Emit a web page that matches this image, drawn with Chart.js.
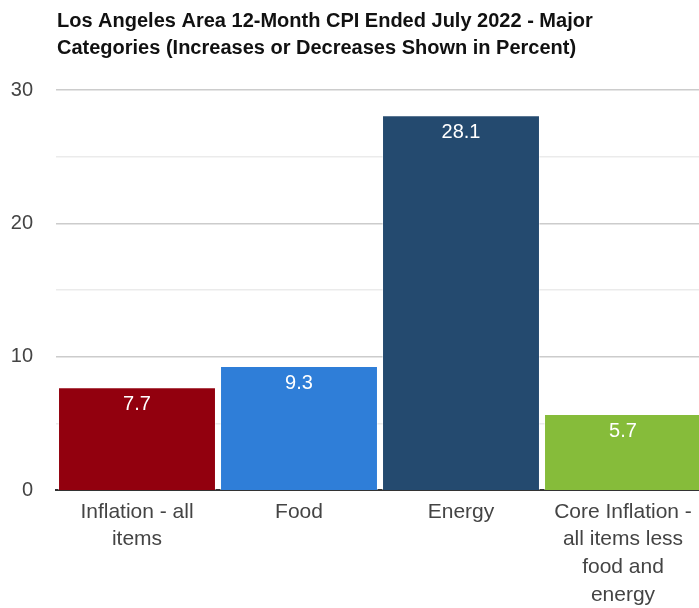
<!DOCTYPE html>
<html>
<head>
<meta charset="utf-8">
<script src="https://cdn.jsdelivr.net/npm/chart.js@4.4.1/dist/chart.umd.min.js"></script>
<style>
html,body{margin:0;padding:0;background:#fff;overflow:hidden;}
#wrap{width:699px;height:608px;position:relative;overflow:hidden;}
canvas{display:block;}
</style>
</head>
<body>
<div id="wrap"><canvas id="c" width="704" height="608"></canvas></div>
<script>
const titleLines = ["Los Angeles Area 12-Month CPI Ended July 2022 - Major", "Categories (Increases or Decreases Shown in Percent)"];
const categories = [["Inflation - all", "items"], ["Food"], ["Energy"], ["Core Inflation -", "all items less", "food and", "energy"]];
const values = [7.7, 9.3, 28.1, 5.7];
const barColors = ["#92000e", "#2f7ed8", "#244a6f", "#86bc3a"];
const yMin = 0, yMax = 30, yStep = 5, yLabelStep = 10;

const FONT = "'Liberation Sans', Arial, sans-serif";

const titlePlugin = {
  id: 'leftTitle',
  afterDraw(chart) {
    const ctx = chart.ctx;
    ctx.save();
    ctx.font = "bold 20px " + FONT;
    ctx.fillStyle = "#111";
    ctx.textAlign = "left";
    ctx.textBaseline = "middle";
    const x = chart.chartArea.left + 1;
    titleLines.forEach((t, i) => ctx.fillText(t, x, 21 + i * 27));
    ctx.restore();
  }
};

const valuePlugin = {
  id: 'valueLabels',
  afterDatasetsDraw(chart) {
    const ctx = chart.ctx;
    const meta = chart.getDatasetMeta(0);
    ctx.save();
    ctx.font = "20px " + FONT;
    ctx.fillStyle = "#ffffff";
    ctx.textAlign = "center";
    ctx.textBaseline = "middle";
    meta.data.forEach((bar, i) => {
      const p = bar.getProps(['x', 'y'], true);
      ctx.fillText(String(values[i]), p.x, p.y + 17);
    });
    ctx.restore();
  }
};

new Chart(document.getElementById('c'), {
  type: 'bar',
  data: {
    labels: categories,
    datasets: [{
      data: values,
      backgroundColor: barColors,
      borderColor: 'rgba(255,255,255,0.45)',
      borderWidth: 1,
      barPercentage: 0.975,
      categoryPercentage: 1.0
    }]
  },
  options: {
    responsive: false,
    animation: false,
    devicePixelRatio: 1,
    layout: { padding: { top: 90, left: 6, right: 0, bottom: 0 } },
    plugins: { legend: { display: false }, title: { display: false }, tooltip: { enabled: false } },
    scales: {
      x: {
        afterFit: (s) => { s.height = 118; },
        grid: { display: false, drawTicks: false },
        border: { display: true, color: '#333', width: 2 },
        ticks: { color: '#444', font: { family: FONT, size: 21, lineHeight: 1.32 }, padding: 8, maxRotation: 0, autoSkip: false }
      },
      y: {
        min: yMin, max: yMax,
        afterFit: (s) => { s.width = 50; },
        grid: {
          drawTicks: false,
          color: (c) => (c.tick && c.tick.value % yLabelStep === 0) ? '#cccccc' : '#ebebeb',
          lineWidth: (c) => (c.tick && c.tick.value === 0) ? 0 : 1.5
        },
        border: { display: false },
        ticks: {
          stepSize: yStep,
          color: '#444',
          font: { family: FONT, size: 20 },
          padding: 23,
          callback: (v) => (v % yLabelStep === 0 ? String(v) : '')
        }
      }
    }
  },
  plugins: [titlePlugin, valuePlugin]
});
</script>
</body>
</html>
